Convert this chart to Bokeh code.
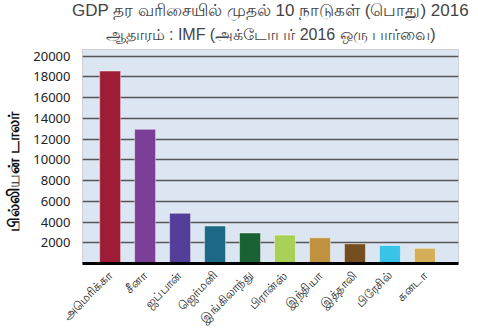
from math import pi
from bokeh.plotting import figure
from bokeh.models import Title, FixedTicker, ColumnDataSource
from bokeh.embed import file_html
from bokeh.resources import INLINE

countries = ["அமெரிக்கா", "சீனா", "ஜப்பான்", "ஜெர்மனி", "இங்கிலாந்து",
             "பிரான்ஸ்", "இந்தியா", "இத்தாலி", "பிரேசில்", "கனடா"]
gdp = [18570, 12950, 4850, 3620, 2950, 2740, 2480, 1900, 1740, 1460]
colors = ["#9E1C36", "#7B3F98", "#533F99", "#1D6884", "#1A6134",
          "#A9D158", "#C0913E", "#754E20", "#39C3E6", "#D4AE58"]
yticks = [2000, 4000, 6000, 8000, 10000, 12000, 14000, 16000, 18000, 20000]

xs = list(range(len(countries)))
src = ColumnDataSource(dict(x=xs, top=gdp, color=colors))

p = figure(width=478, height=335, output_backend="svg", toolbar_location=None,
           x_range=(-0.79, 9.96), y_range=(0, 20650),
           min_border_left=82, min_border_right=20, min_border_top=49,
           min_border_bottom=72)
p.background_fill_color = "#DCE6F2"
p.border_fill_color = "white"
p.outline_line_color = "#d0d0d0"

p.vbar(x="x", top="top", width=0.6, color="color", source=src,
       line_color="white", line_alpha=0.45, line_width=1)

p.xgrid.grid_line_color = None
p.ygrid.ticker = FixedTicker(ticks=yticks)
p.ygrid.grid_line_color = "#555555"
p.ygrid.grid_line_width = 1.5

p.yaxis.ticker = FixedTicker(ticks=yticks)
p.yaxis.axis_line_color = None
p.yaxis.major_tick_line_color = None
p.yaxis.minor_tick_line_color = None
p.yaxis.major_label_text_font = "Noto Sans"
p.yaxis.major_label_text_font_size = "13px"
p.yaxis.major_label_text_color = "#222222"
p.yaxis.major_label_standoff = 6
p.yaxis.axis_label = "பில்லியன் டாலர்" + "\u00a0" * 7
p.yaxis.axis_label_text_font_size = "16px"
p.yaxis.axis_label_text_font_style = "bold"
p.yaxis.axis_label_text_color = "#111111"
p.yaxis.axis_label_standoff = 8

p.xaxis.ticker = FixedTicker(ticks=xs)
p.xaxis.major_label_overrides = {i: c for i, c in enumerate(countries)}
p.xaxis.major_label_orientation = pi / 4
p.xaxis.axis_line_color = "black"
p.xaxis.axis_line_width = 3
p.xaxis.major_tick_line_color = None
p.xaxis.minor_tick_line_color = None
p.xaxis.major_label_text_font_size = "12px"
p.xaxis.major_label_text_color = "#222222"
p.xaxis.major_label_standoff = 4

p.add_layout(Title(text="ஆதாரம் : IMF (அக்டோபர் 2016 ஒரு பார்வை)", align="center",
                   text_font="Liberation Sans", text_font_size="16px",
                   text_font_style="normal", standoff=13), "above")
p.add_layout(Title(text="GDP தர வரிசையில் முதல் 10 நாடுகள் (பொது) 2016", align="center",
                   text_font="Liberation Sans", text_font_size="17px",
                   text_font_style="normal", standoff=-5), "above")

open("out.html", "w").write(file_html(p, INLINE))
